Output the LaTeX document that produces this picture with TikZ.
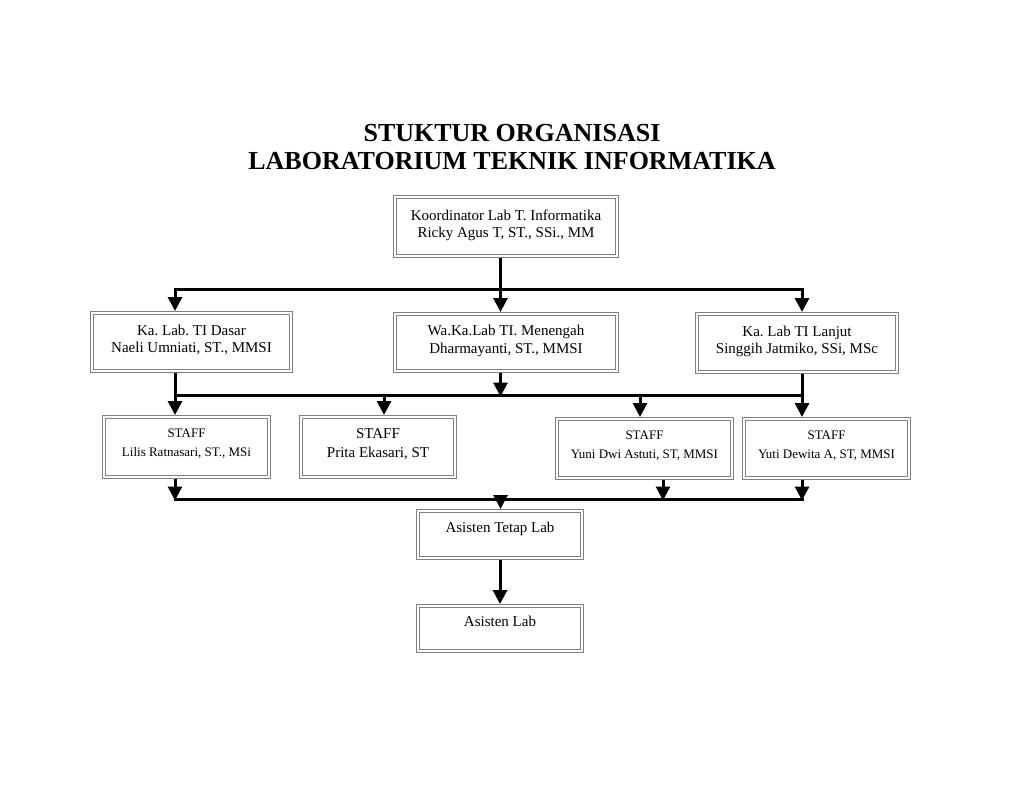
\documentclass[tikz,border=0pt]{standalone}
\usepackage{fontspec}
\setmainfont{Liberation Serif}
\usetikzlibrary{positioning}
\usetikzlibrary{arrows.meta}
\frenchspacing
\tikzset{
  box/.style={draw=gray, double=white, double distance=2.2pt, line width=0.9pt,
    outer sep=2pt, inner sep=0pt, align=center},
  headbox/.style={box, font=\fontsize{15}{17.5}\selectfont, text depth=6pt},
  staffbox/.style={box, font=\fontsize{13}{19}\selectfont, text depth=8.5pt},
  asbox/.style={box, font=\fontsize{15}{17.5}\selectfont, text depth=15pt,
    minimum width=164pt},
  bus/.style={line width=3pt, line cap=rect},
  arr/.style={line width=3pt, -{Triangle[length=14pt,width=14pt]}},
}
\begin{document}
\begin{tikzpicture}[x=1pt, y=-1pt]
        \useasboundingbox (0,0) rectangle (1024,791);
        % title %
        \node[align=center, font=\fontsize{26}{28}\selectfont\bfseries] (title) at (512,147)
          {STUKTUR ORGANISASI\\LABORATORIUM TEKNIK INFORMATIKA};

        % nodes %
        \node[headbox, minimum width=222pt, minimum height=59pt] (koor) at (506,226.5)
          {Koordinator Lab T. Informatika\\Ricky Agus T, ST., SSi., MM};
        \node[headbox, minimum width=222pt, minimum height=57pt, below=54pt of koor] (waka)
          {Wa.Ka.Lab TI. Menengah\\Dharmayanti, ST., MMSI};
        \node[headbox, minimum width=199pt, minimum height=58pt] (dasar) at (191.5,342)
          {Ka. Lab. TI Dasar\\Naeli Umniati, ST., MMSI};
        \node[headbox, minimum width=200pt, minimum height=58pt, right=76pt of waka, yshift=-0.5pt] (lanjut)
          {Ka. Lab TI Lanjut\\Singgih Jatmiko, SSi, MSc};

        \node[staffbox, minimum width=165pt, minimum height=60pt] (staff1) at (186.5,447)
          {STAFF\\Lilis Ratnasari, ST., MSi};
        \node[staffbox, font=\fontsize{15}{19}\selectfont, minimum width=154pt, minimum height=60pt,
          right=28pt of staff1] (staff2)
          {STAFF\\Prita Ekasari, ST};
        \node[staffbox, minimum width=175pt, minimum height=59pt] (staff3) at (644.5,448.5)
          {STAFF\\Yuni Dwi Astuti, ST, MMSI};
        \node[staffbox, minimum width=165pt, minimum height=59pt, right=8pt of staff3] (staff4)
          {STAFF\\Yuti Dewita A, ST, MMSI};

        \node[asbox, minimum height=47pt] (tetap) at (500,534.5) {Asisten Tetap Lab};
        \node[asbox, minimum height=45pt, below=44pt of tetap] (alab) {Asisten Lab};

        % bus points %
        \coordinate (mid) at (500.5,290);
        \coordinate (b1l) at (175,290);
        \coordinate (b1r) at (802,290);
        \coordinate (b2l) at (175,395);
        \coordinate (b2r) at (802,395);
        \coordinate (s2in) at (384,395);
        \coordinate (s3in) at (640,395);
        \coordinate (b3l) at (175,499);
        \coordinate (b3r) at (802,499);
        \coordinate (s3out) at (663,499);

        % edges %
        \draw[bus] (b1l) -- (b1r);
        \draw[bus] (b2l) -- (b2r);
        \draw[bus] (b3l) -- (b3r);
        \draw[arr] (koor.south -| mid) -- (waka.north -| mid);
        \draw[arr] (b1l) -- (dasar.north -| b1l);
        \draw[arr] (b1r) -- (lanjut.north -| b1r);
        \draw[arr] (waka.south -| mid) -- ([yshift=-1.5pt]b2l -| mid);
        \draw[arr] (dasar.south -| b2l) -- (staff1.north -| b2l);
        \draw[arr] (lanjut.south -| b2r) -- (staff4.north -| b2r);
        \draw[arr] (s2in) -- (staff2.north -| s2in);
        \draw[arr] (s3in) -- (staff3.north -| s3in);
        \draw[arr] (staff1.south -| b3l) -- ([yshift=-1.5pt]b3l);
        \draw[arr] (staff3.south -| s3out) -- ([yshift=-1.5pt]s3out);
        \draw[arr] (staff4.south -| b3r) -- ([yshift=-1.5pt]b3r);
        \draw[arr] (b3l -| mid) -- (tetap.north -| mid);
        \draw[arr] (tetap) -- (alab);
\end{tikzpicture}
\end{document}
